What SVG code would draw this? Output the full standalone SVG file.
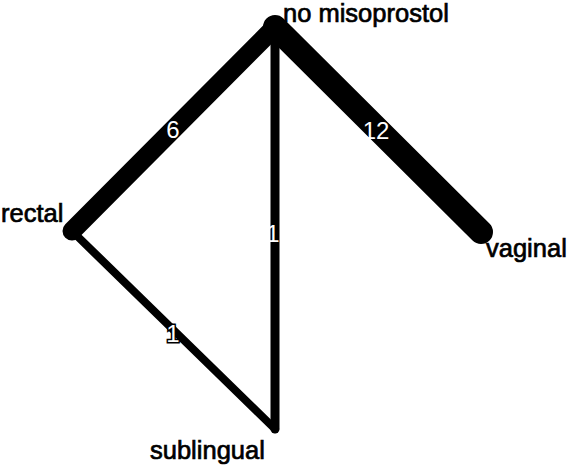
<svg xmlns="http://www.w3.org/2000/svg" width="568" height="467" viewBox="0 0 568 467">
<style>
.e{stroke:#000;stroke-linecap:round;fill:none}
.el{font-family:"Liberation Sans",Arial,sans-serif;font-size:24px;fill:#fff;text-anchor:middle}
.nl{font-family:"Liberation Sans",Arial,sans-serif;font-size:25.5px;fill:#000;stroke:#000;stroke-width:0.7}
</style>
<rect width="568" height="467" fill="#fff"/>
<g id="connectors">
<line class="e" x1="72" y1="231" x2="275" y2="27" stroke-width="19"/>
<line class="e" x1="275" y1="27" x2="481" y2="232" stroke-width="24"/>
<line class="e" x1="275" y1="27" x2="275" y2="429" stroke-width="9"/>
<line class="e" x1="72" y1="231" x2="275" y2="429" stroke-width="8"/>
<text class="el" x="173" y="138">6</text>
<text class="el" x="376" y="139">12</text>
<text class="el" x="273" y="242">1</text>
<text class="el" x="173" y="342" stroke="#000" stroke-width="3" paint-order="stroke">1</text>
</g>
<g id="node-no-misoprostol"><text class="nl" x="283" y="22">no misoprostol</text></g>
<g id="node-rectal"><text class="nl" x="1" y="222">rectal</text></g>
<g id="node-vaginal"><text class="nl" x="486" y="257">vaginal</text></g>
<g id="node-sublingual"><text class="nl" x="150" y="459">sublingual</text></g>
</svg>
